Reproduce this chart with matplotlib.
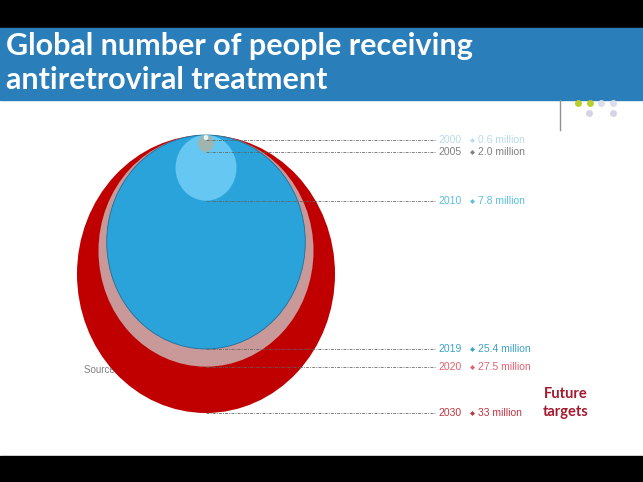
import matplotlib.pyplot as plt
from matplotlib.patches import Circle, Rectangle

# data
years = ['2000', '2005', '2010', '2019', '2020', '2030']
values = [0.6, 2.0, 7.8, 25.4, 27.5, 33.0]
value_labels = ['0.6 million', '2.0 million', '7.8 million',
                '25.4 million', '27.5 million', '33 million']

fill_colors = ['#e6f6f8', '#9fb5ad', '#66c8f2', '#29a3da', '#c99898', '#c00000']
text_colors = ['#b9dce6', '#808080', '#5bbfdc', '#3ba3c6', '#e0616f', '#c0343f']

W, H = 643, 482
fig = plt.figure(figsize=(W / 100, H / 100), dpi=100)

# pixel scale of one "million" (picture is a bit taller than wide)
sx = 258 / 33.0
sy = 278 / 33.0
cx_px, top_px = 206, 135

ax = fig.add_axes([0, 0, 1, 1])
ax.set_xlim(-cx_px / sx, (W - cx_px) / sx)
ax.set_ylim((top_px - H) / sy, top_px / sy)
ax.set_aspect('auto')
ax.axis('off')

def fx(px):
    return px / W

def fy(py):
    return 1 - py / H

# source text sits behind the circles
ax.text((84 - cx_px) / sx, (top_px - 370) / sy, 'Source: UNAIDS', color='#808080',
        fontsize=7, family='Liberation Sans', va='center', zorder=0)

# nested circles, all touching at the top, biggest first
order = sorted(range(len(values)), key=lambda i: -values[i])
for z, i in enumerate(order):
    r = values[i] / 2
    ec = '#1f6f9a' if years[i] == '2019' else 'none'
    ax.add_patch(Circle((0, -r), r, facecolor=fill_colors[i], edgecolor=ec,
                        lw=0.6, zorder=2 + z))

# leader lines and labels
x_end = (435 - cx_px) / sx
for i in range(len(years)):
    yb = -values[i]
    ax.plot([0, x_end], [yb, yb], color='#606060', lw=0.7,
            ls=(0, (3, 1.2, 1, 1.2)), zorder=20, alpha=0.8)
    ax.text((462 - cx_px) / sx, yb, years[i], color=text_colors[i], fontsize=7.5,
            family='Liberation Sans', ha='right', va='center', zorder=21)
    ax.plot((472 - cx_px) / sx, yb, marker='D', ms=2.5, color=text_colors[i],
            mec='none', zorder=21)
    ax.text((478 - cx_px) / sx, yb, value_labels[i], color=text_colors[i],
            fontsize=7.5, family='Liberation Sans', ha='left', va='center', zorder=21)

fig.text(fx(566), fy(403), 'Future\ntargets', color='#a3192e', fontsize=10.5,
         fontweight='bold', family='Lato', ha='center', va='center',
         multialignment='center', linespacing=1.3)

# frame: black bands, title bar, small decoration
fig.patches.append(Rectangle((0, fy(27)), 1, 27 / H, transform=fig.transFigure,
                             color='black', zorder=0))
fig.patches.append(Rectangle((0, 0), 1, (H - 456) / H, transform=fig.transFigure,
                             color='black', zorder=0))
fig.patches.append(Rectangle((0, fy(100)), 1, 72 / H, transform=fig.transFigure,
                             color='#2a7fba', zorder=0))
fig.text(fx(6), fy(46), 'Global number of people receiving', color='white',
         fontsize=22, fontweight='bold', family='Lato', va='center')
fig.text(fx(6), fy(80), 'antiretroviral treatment', color='white',
         fontsize=22, fontweight='bold', family='Lato', va='center')

fig.lines.append(plt.Line2D([fx(560), fx(560)], [fy(100), fy(130)],
                            transform=fig.transFigure, color='#909090', lw=1))
dots = [(578, 103, '#b9cf2a'), (590, 103, '#b9cf2a'), (601, 103, '#dcdcea'),
        (613, 103, '#dcdcea'), (589, 113, '#d4d4e6'), (613, 113, '#d4d4e6')]
for dx, dy, c in dots:
    fig.lines.append(plt.Line2D([fx(dx)], [fy(dy)], transform=fig.transFigure,
                                marker='o', ms=5, color=c, mec='none'))

plt.savefig('out.png', dpi=100)
